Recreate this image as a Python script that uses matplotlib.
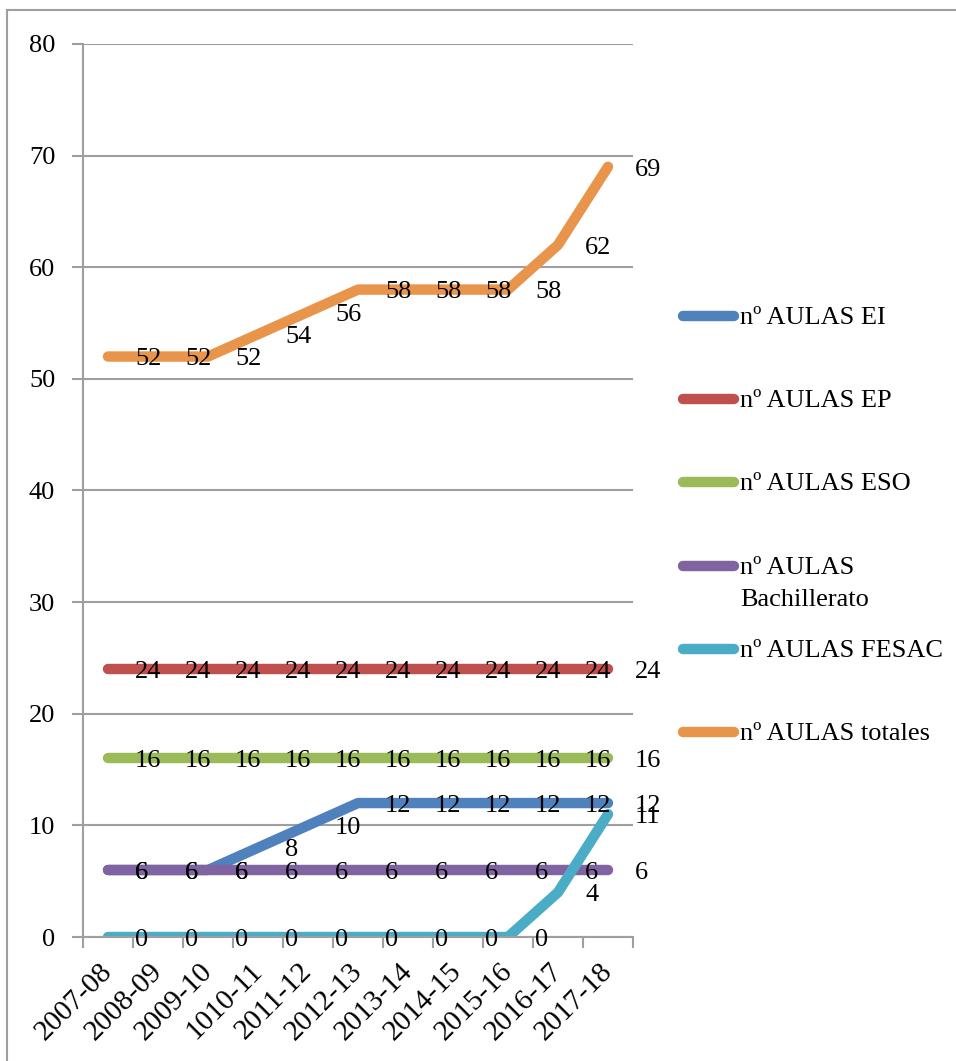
import matplotlib
matplotlib.use("Agg")
import matplotlib.pyplot as plt
from matplotlib.patches import Rectangle
from matplotlib.lines import Line2D
from matplotlib.transforms import offset_copy

categories = ["2007-08", "2008-09", "2009-10", "1010-11", "2011-12", "2012-13",
              "2013-14", "2014-15", "2015-16", "2016-17", "2017-18"]
aulas_ei = [6, 6, 6, 8, 10, 12, 12, 12, 12, 12, 12]
aulas_ep = [24, 24, 24, 24, 24, 24, 24, 24, 24, 24, 24]
aulas_eso = [16, 16, 16, 16, 16, 16, 16, 16, 16, 16, 16]
aulas_bach = [6, 6, 6, 6, 6, 6, 6, 6, 6, 6, 6]
aulas_fesac = [0, 0, 0, 0, 0, 0, 0, 0, 0, 4, 11]
aulas_tot = [52, 52, 52, 54, 56, 58, 58, 58, 58, 62, 69]
series_names = ["nº AULAS EI", "nº AULAS EP", "nº AULAS ESO",
                "nº AULAS\nBachillerato", "nº AULAS FESAC", "nº AULAS totales"]
colors = ["#4F81BD", "#C0504D", "#9BBB59", "#8064A2", "#4BACC6", "#E8944A"]

plt.rcParams['font.family'] = ['Liberation Serif', 'DejaVu Serif']
FS = 19
GRID = "#9f9f9f"

W, H = 956, 1061
fig = plt.figure(figsize=(W / 100, H / 100), dpi=100)
fig.patches.append(Rectangle((7 / W, -0.05), 1.1, 1 - 10 / H + 0.05,
                             transform=fig.transFigure, fill=False,
                             edgecolor=GRID, linewidth=1.5))
ax = fig.add_axes([83 / W, 1 - 937 / H, 550 / W, (937 - 44) / H])

x = list(range(len(categories)))
all_series = [aulas_ei, aulas_ep, aulas_eso, aulas_bach, aulas_fesac, aulas_tot]
for vals, name, c in zip(all_series, series_names, colors):
    ax.plot(x, vals, color=c, linewidth=7.5, solid_capstyle="round",
            solid_joinstyle="round", label=name)

trans = offset_copy(ax.transData, fig=fig, x=19.5, y=-2, units="points")
for vals in all_series:
    for xi, v in zip(x, vals):
        ax.text(xi, v, str(v), transform=trans, ha="left", va="center",
                fontsize=FS, color="black", zorder=10)

ax.set_xlim(-0.5, len(categories) - 0.5)
ax.set_ylim(0, 80)
ax.set_yticks(range(0, 81, 10))
ax.set_xticks([i - 0.5 for i in range(len(categories) + 1)], minor=False)
ax.set_xticklabels([])
ax.set_xticks(x, minor=True)
ax.set_xticklabels(categories, minor=True, rotation=45, ha="right",
                   va="center", rotation_mode="anchor", fontsize=21)
ax.tick_params(axis="x", which="minor", length=0, pad=22)
ax.tick_params(axis="x", which="major", length=8, color=GRID, width=1.5)
ax.tick_params(axis="y", length=8, color=GRID, width=1.5, pad=12,
               labelsize=FS)
ax.grid(axis="y", color=GRID, linewidth=1.5)
ax.set_axisbelow(True)
for s in ["top", "right"]:
    ax.spines[s].set_visible(False)
for s in ["left", "bottom"]:
    ax.spines[s].set_color(GRID)
    ax.spines[s].set_linewidth(1.5)

# legend (drawn manually to keep handle aligned with first text line)
leg_y0, leg_step = 316, 83.2
for i, (name, c) in enumerate(zip(series_names, colors)):
    yp = leg_y0 + i * leg_step
    fig.add_artist(Line2D([683 / W, 734 / W], [1 - yp / H, 1 - yp / H],
                          transform=fig.transFigure, color=c, linewidth=7.5,
                          solid_capstyle="round"))
    for k, part in enumerate(name.split("\n")):
        fig.text(740 / W, 1 - (yp + 2 + 32 * k) / H, part, ha="left",
                 va="center", fontsize=FS, color="black")

fig.savefig("out.png", dpi=100)
